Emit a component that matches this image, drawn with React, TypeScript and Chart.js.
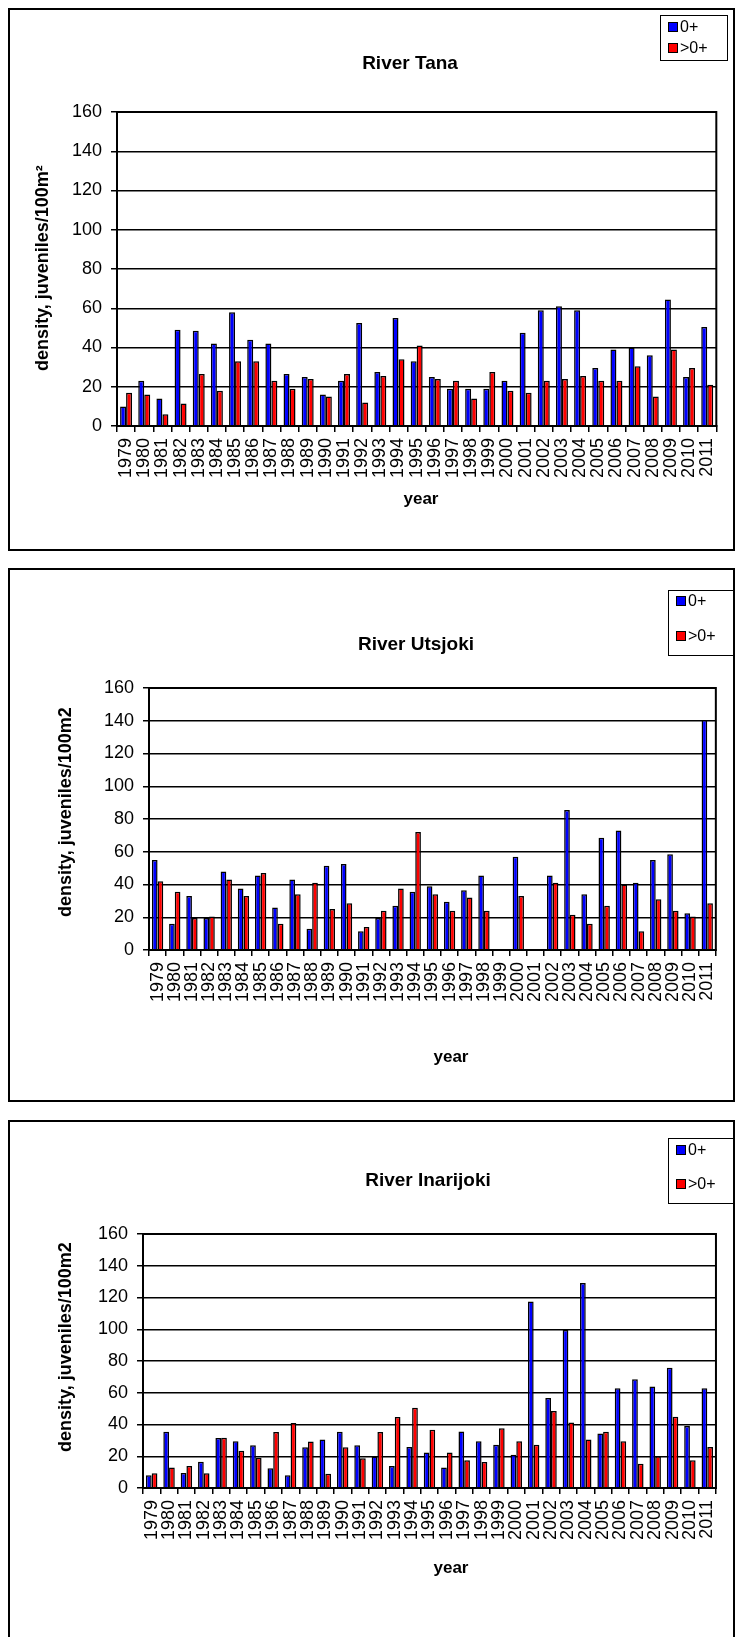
import React, { useEffect, useRef } from "react";
import { Chart, registerables } from "chart.js";

Chart.register(...registerables);

// ---------- data ----------
const years = [
  "1979", "1980", "1981", "1982", "1983", "1984", "1985", "1986", "1987", "1988", "1989",
  "1990", "1991", "1992", "1993", "1994", "1995", "1996", "1997", "1998", "1999", "2000",
  "2001", "2002", "2003", "2004", "2005", "2006", "2007", "2008", "2009", "2010", "2011",
];
const yTicks = [0, 20, 40, 60, 80, 100, 120, 140, 160];
const seriesNames = ["0+", ">0+"];

const tanaAge0 = [10, 23, 14, 49, 48.5, 42, 58, 44, 42, 26.5, 25, 16, 23, 52.5, 27.5, 55, 33, 25, 19, 19, 19, 23, 47.5, 59, 61, 59, 29.5, 39, 40, 36, 64.5, 25, 50.5];
const tanaOlder = [17, 16, 6, 11.5, 26.5, 18, 33, 33, 23, 19, 24, 15, 26.5, 12, 25.5, 34, 41, 24, 23, 14, 27.5, 18, 17, 23, 24, 25.5, 23, 23, 30.5, 15, 39, 29.5, 21];

const utsjokiAge0 = [55, 16, 33, 19.5, 48, 37.5, 45.5, 26, 43, 13, 51.5, 52.5, 11.5, 19.5, 27, 35.5, 39, 29.5, 36.5, 45.5, null, 57, null, 45.5, 85.5, 34, 68.5, 73, 41, 55, 58.5, 22.5, 140.5];
const utsjokiOlder = [42, 35.5, 19.5, 20.5, 43, 33, 47, 16, 34, 41, 25, 28.5, 14, 24, 37.5, 72, 34, 24, 32, 24, null, 33, null, 41, 21.5, 16, 27, 40, 11.5, 31, 24, 20.5, 28.5];

const inarijokiAge0 = [8, 35.5, 9.5, 16.5, 31.5, 29.5, 27, 12.5, 8, 25.7, 30.5, 35.5, 27, 19.8, 13.8, 25.8, 22.3, 12.9, 35.6, 29.5, 27.2, 21, 117.5, 56.7, 99.5, 129.2, 34.4, 62.8, 68.5, 63.9, 75.7, 39, 62.8];
const inarijokiOlder = [9.3, 12.9, 13.9, 9.3, 31.6, 23.4, 19, 35.2, 41, 29.3, 9, 25.7, 18.7, 35.3, 44.8, 50.5, 36.7, 22.3, 17.5, 16.4, 37.7, 29.5, 27.2, 48.5, 41.3, 30.6, 35.4, 29.5, 15.2, 20, 44.9, 17.5, 25.9];

// ---------- styling ----------
const FONT = "'Liberation Sans', Arial, Helvetica, sans-serif";
const NARROW = "'Liberation Sans Narrow', 'Arial Narrow', 'Liberation Sans', Arial, sans-serif";
const BLUE = "#0000FF";
const RED = "#FF0000";

const framePlugin = {
  id: "frame",
  afterDraw(chart: any) {
    const { ctx, chartArea: a } = chart;
    ctx.save();
    ctx.strokeStyle = "#000";
    ctx.lineWidth = 2;
    ctx.strokeRect(a.left, a.top, a.right - a.left, a.bottom - a.top);
    ctx.restore();
  },
};

type Geo = {
  boxTop: number;
  boxHeight: number;
  canvasTop: number;
  canvasBottom: number;
  plot: { left: number; right: number; top: number; bottom: number };
  title: [number, number];
  legend: { left: number; top: number; width: number; height: number; rows: [number, number] };
  yTitle: [number, number];
  xTitle: [number, number];
};

function Panel(props: { geo: Geo; title: string; yTitle: string; age0: (number | null)[]; older: (number | null)[] }) {
  const { geo, title, yTitle, age0, older } = props;
  const ref = useRef<HTMLCanvasElement>(null);
  const canvasH = geo.canvasBottom - geo.canvasTop;

  useEffect(() => {
    const padLeft = 10;
    const xH = 90;
    const yW = geo.plot.left - padLeft;
    const relTop = geo.plot.top - geo.canvasTop;
    const relBottom = geo.plot.bottom - geo.canvasTop;
    const tickFont = { family: FONT, size: 18 };
    const chart = new Chart(ref.current as HTMLCanvasElement, {
      type: "bar",
      data: {
        labels: years,
        datasets: [
          {
            label: seriesNames[0],
            data: age0,
            backgroundColor: BLUE,
            borderColor: "#000",
            borderWidth: 1.5,
            categoryPercentage: 0.66,
            barPercentage: 1,
          },
          {
            label: seriesNames[1],
            data: older,
            backgroundColor: RED,
            borderColor: "#000",
            borderWidth: 1.5,
            categoryPercentage: 0.66,
            barPercentage: 1,
          },
        ],
      },
      options: {
        responsive: false,
        animation: false,
        devicePixelRatio: 1,
        layout: {
          padding: {
            left: padLeft,
            top: relTop,
            right: 735 - geo.plot.right,
            bottom: canvasH - relBottom - xH,
          },
        },
        plugins: {
          legend: { display: false },
          title: { display: false },
          tooltip: { enabled: false },
        },
        scales: {
          x: {
            grid: {
              display: true,
              drawOnChartArea: false,
              drawTicks: true,
              tickLength: 6,
              color: "#000",
              lineWidth: 1.5,
              offset: true,
            },
            border: { display: true, color: "#000", width: 2 },
            ticks: {
              autoSkip: false,
              minRotation: 90,
              maxRotation: 90,
              padding: 6,
              color: "#000",
              font: tickFont,
            },
            afterFit: (s: any) => {
              s.height = xH;
            },
          },
          y: {
            min: 0,
            max: 160,
            afterBuildTicks: (s: any) => {
              s.ticks = yTicks.map((v) => ({ value: v }));
            },
            grid: { color: "#000", lineWidth: 1.5, tickLength: 6 },
            border: { display: true, color: "#000", width: 2 },
            ticks: { padding: 9, color: "#000", font: tickFont },
            afterFit: (s: any) => {
              s.width = yW;
            },
          },
        },
      },
      plugins: [framePlugin],
    } as any);
    return () => chart.destroy();
  }, []);

  const legendItem = (name: string, color: string, y: number) => (
    <div
      style={{
        position: "absolute",
        left: geo.legend.left + 8,
        top: y,
        transform: "translateY(-50%)",
        display: "flex",
        alignItems: "center",
        fontFamily: NARROW,
        fontSize: 16,
        lineHeight: "18px",
        whiteSpace: "nowrap",
        color: "#000",
      }}
    >
      <span
        style={{
          display: "inline-block",
          width: 8,
          height: 8,
          background: color,
          border: "1px solid #000",
          marginRight: 2,
        }}
      />
      {name}
    </div>
  );

  return (
    <>
      <canvas
        ref={ref}
        width={735}
        height={canvasH}
        style={{ position: "absolute", left: 0, top: geo.canvasTop, width: 735, height: canvasH }}
      />
      <div
        style={{
          position: "absolute",
          left: 8,
          top: geo.boxTop,
          width: 727,
          height: geo.boxHeight,
          border: "2px solid #000",
          boxSizing: "border-box",
        }}
      />
      <div
        style={{
          position: "absolute",
          left: geo.title[0],
          top: geo.title[1],
          transform: "translate(-50%, -50%)",
          fontFamily: NARROW,
          fontWeight: "bold",
          fontSize: 19,
          whiteSpace: "nowrap",
          color: "#000",
        }}
      >
        {title}
      </div>
      <div
        style={{
          position: "absolute",
          left: geo.yTitle[0],
          top: geo.yTitle[1],
          transform: "translate(-50%, -50%) rotate(-90deg)",
          fontFamily: FONT,
          fontWeight: "bold",
          fontSize: 18,
          whiteSpace: "nowrap",
          color: "#000",
        }}
      >
        {yTitle}
      </div>
      <div
        style={{
          position: "absolute",
          left: geo.xTitle[0],
          top: geo.xTitle[1],
          transform: "translate(-50%, -50%)",
          fontFamily: FONT,
          fontWeight: "bold",
          fontSize: 17,
          whiteSpace: "nowrap",
          color: "#000",
        }}
      >
        year
      </div>
      <div
        style={{
          position: "absolute",
          left: geo.legend.left,
          top: geo.legend.top,
          width: geo.legend.width,
          height: geo.legend.height,
          border: "1.5px solid #000",
          boxSizing: "border-box",
          background: "#fff",
        }}
      />
      {legendItem(seriesNames[0], BLUE, geo.legend.rows[0])}
      {legendItem(seriesNames[1], RED, geo.legend.rows[1])}
    </>
  );
}

const tanaGeo: Geo = {
  boxTop: 8,
  boxHeight: 543,
  canvasTop: 0,
  canvasBottom: 560,
  plot: { left: 117, right: 724, top: 112, bottom: 426 },
  title: [410, 63],
  legend: { left: 660, top: 15, width: 68, height: 46, rows: [27, 48] },
  yTitle: [42, 268],
  xTitle: [421, 499],
};

const utsjokiGeo: Geo = {
  boxTop: 568,
  boxHeight: 534,
  canvasTop: 560,
  canvasBottom: 1110,
  plot: { left: 149, right: 725, top: 688, bottom: 950 },
  title: [416, 644],
  legend: { left: 668, top: 590, width: 66, height: 66, rows: [601, 636] },
  yTitle: [65, 812],
  xTitle: [451, 1057],
};

const inarijokiGeo: Geo = {
  boxTop: 1120,
  boxHeight: 540,
  canvasTop: 1110,
  canvasBottom: 1637,
  plot: { left: 143, right: 727, top: 1234, bottom: 1488 },
  title: [428, 1180],
  legend: { left: 668, top: 1138, width: 66, height: 66, rows: [1150, 1184] },
  yTitle: [65, 1347],
  xTitle: [451, 1568],
};

export default function App() {
  return (
    <div
      style={{
        position: "absolute",
        left: 0,
        top: 0,
        width: 735,
        height: 1637,
        overflow: "hidden",
        background: "#fff",
      }}
    >
      <Panel geo={tanaGeo} title="River Tana" yTitle="density, juveniles/100m²" age0={tanaAge0} older={tanaOlder} />
      <Panel geo={utsjokiGeo} title="River Utsjoki" yTitle="density, juveniles/100m2" age0={utsjokiAge0} older={utsjokiOlder} />
      <Panel geo={inarijokiGeo} title="River Inarijoki" yTitle="density, juveniles/100m2" age0={inarijokiAge0} older={inarijokiOlder} />
    </div>
  );
}
